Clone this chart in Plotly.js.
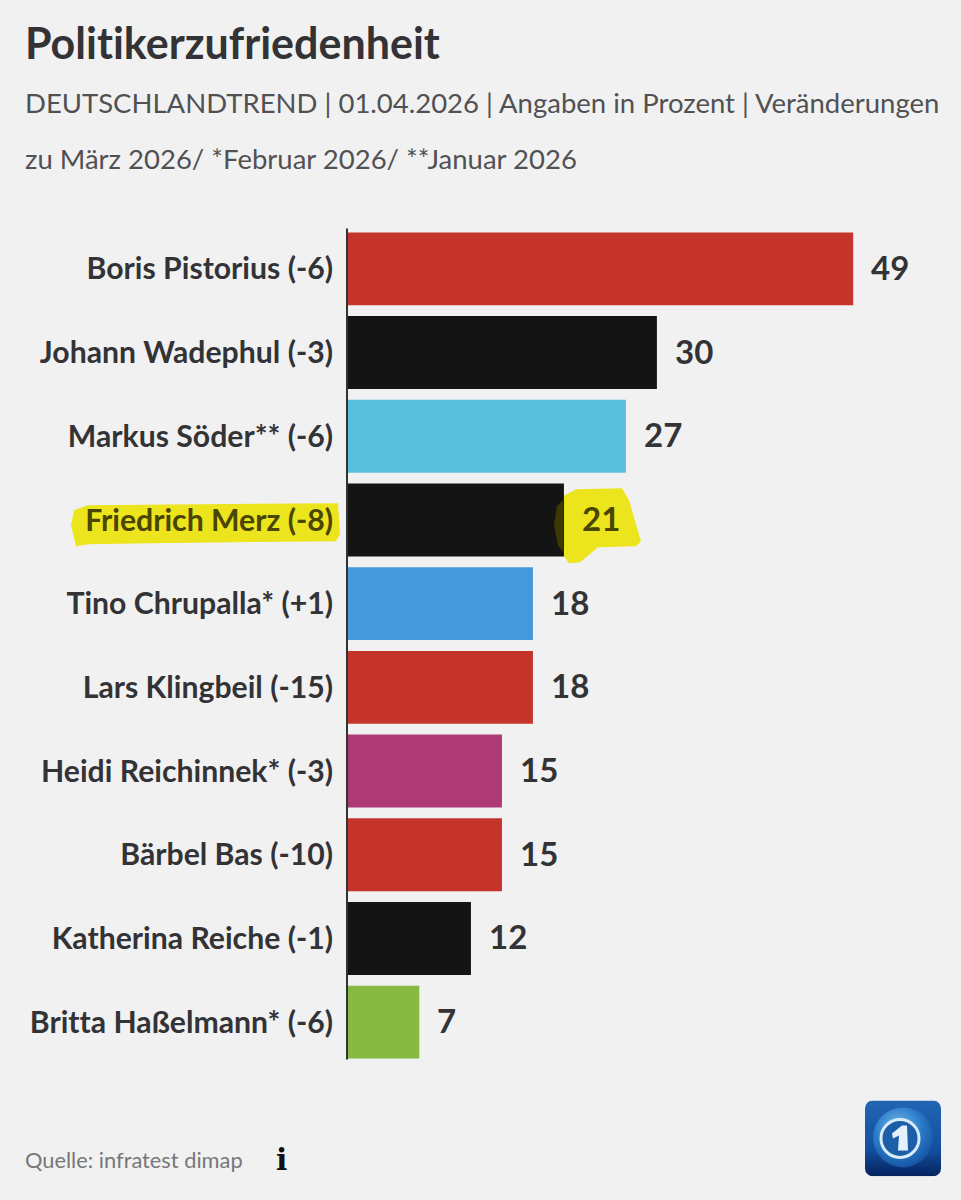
<!DOCTYPE html>
<html><head><meta charset="utf-8">
<script src="https://cdn.plot.ly/plotly-3.0.1.min.js"></script>
<style>html,body{margin:0;padding:0;background:#f1f1f2} text,tspan{font-variant-ligatures:none !important;font-feature-settings:"liga" 0,"clig" 0,"dlig" 0 !important;text-rendering:optimizeSpeed}</style></head>
<body><div id="chart" style="width:961px;height:1200px"></div>
<script>
const names = ["Boris Pistorius (-6)","Johann Wadephul (-3)","Markus Söder** (-6)","Friedrich Merz (-8)","Tino Chrupalla* (+1)","Lars Klingbeil (-15)","Heidi Reichinnek* (-3)","Bärbel Bas (-10)","Katherina Reiche (-1)","Britta Haßelmann* (-6)"];
const values = [49,30,27,21,18,18,15,15,12,7];
const colors = ["#c4342a","#141414","#58c0dc","#141414","#4599db","#c4342a","#ae3a75","#c4342a","#141414","#86ba40"];
const highlighted = "Friedrich Merz (-8)";
const titleText = "Politikerzufriedenheit";
const subtitle1 = "DEUTSCHLANDTREND | 01.04.2026 | Angaben in Prozent | Veränderungen";
const subtitle2 = "zu März 2026/ *Februar 2026/ **Januar 2026";
const sourceText = "Quelle: infratest dimap";

const F = "Lato, 'Noto Sans', sans-serif";
const W = 961, H = 1200, L = 347, T = 226.5, B = 135.5;
const px = x => (x - L) / (W - L);
const py = y => 1 - (y - T) / (H - T - B);
const path = pts => "M" + pts.map(p => px(p[0]).toFixed(4) + "," + py(p[1]).toFixed(4)).join("L") + "Z";
const DARK = "#333336", OLIVE = "#4a4500", YEL = "#ece41c";

const logo = `<svg xmlns="http://www.w3.org/2000/svg" width="76" height="76" viewBox="0 0 76 76">
<defs><linearGradient id="a" x1="0" y1="0" x2="0" y2="1"><stop offset="0" stop-color="#2265b5"/><stop offset=".65" stop-color="#134f9f"/><stop offset="1" stop-color="#04235f"/></linearGradient>
<radialGradient id="b" cx=".42" cy=".35" r=".7"><stop offset="0" stop-color="#7cc0ec"/><stop offset=".55" stop-color="#2a7cc9"/><stop offset="1" stop-color="#134f9f"/></radialGradient></defs>
<rect width="76" height="76" rx="8" fill="url(#a)"/><circle cx="38" cy="37" r="30" fill="url(#b)"/>
<circle cx="35" cy="38" r="19" fill="#1d5ea9" stroke="#d8ecf8" stroke-width="3"/>
<path d="M37 25L42 25L43 50L33 50L34 35L28 38L27 33Z" fill="#e4f1fa"/></svg>`;

const shapes = [
  {type:"path", xref:"paper", yref:"paper", layer:"below", line:{width:0}, fillcolor:YEL,
   path:path([[74,510],[88,505],[338,503],[340,534],[336,541],[150,543],[88,544],[76,546],[71,525]])},
  {type:"path", xref:"paper", yref:"paper", layer:"below", line:{width:0}, fillcolor:YEL,
   path:path([[563,496],[576,489],[622,488],[629,500],[641,541],[636,546],[598,547],[580,562],[569,563],[563,555]])},
  {type:"path", xref:"paper", yref:"paper", layer:"above", line:{width:0}, fillcolor:"#3b3800",
   path:path([[563,500],[557,506],[554,525],[558,545],[563,552]])},
  {type:"line", xref:"paper", yref:"paper", layer:"above", line:{color:DARK,width:2},
   x0:0, x1:0, y0:py(228), y1:py(1060)}
];

const labelsTick = names.map(n => n === highlighted ? `<span style="color:${OLIVE}">${n}</span>` : n);

const annotations = names.map((n,i) => ({
  x: values[i], y: n, xref:"x", yref:"y", text:String(values[i]), showarrow:false,
  xanchor:"left", yanchor:"middle", xshift:16, yshift:2,
  font:{family:F, size:33, weight:700, color: n === highlighted ? OLIVE : DARK}
}));
annotations.push(
  {xref:"paper",yref:"paper",x:px(23),y:py(102),xanchor:"left",yanchor:"middle",showarrow:false,text:subtitle1,font:{family:F,size:27.5,color:"#515154"}},
  {xref:"paper",yref:"paper",x:px(23),y:py(158),xanchor:"left",yanchor:"middle",showarrow:false,text:subtitle2,font:{family:F,size:27.5,color:"#515154"}},
  {xref:"paper",yref:"paper",x:px(23),y:py(1160),xanchor:"left",yanchor:"middle",showarrow:false,text:sourceText,font:{family:F,size:21.8,color:"#77777a"}},
  {xref:"paper",yref:"paper",x:px(281),y:py(1160),xanchor:"center",yanchor:"middle",showarrow:false,text:"i",font:{family:"'DejaVu Serif', serif",size:30,weight:700,color:"#111"}}
);

Plotly.newPlot("chart", [{
  type:"bar", orientation:"h", y:names, x:values, width:0.871,
  marker:{color:colors, line:{width:0}}, hoverinfo:"skip", showlegend:false
}], {
  width:W, height:H, margin:{l:L,r:0,t:T,b:B,pad:0},
  paper_bgcolor:"#f1f1f2", plot_bgcolor:"#f1f1f2",
  title:{text:titleText, x:25/W, xanchor:"left", y:1-44/H, yanchor:"middle", font:{family:F,size:43,weight:700,color:"#333336"}},
  xaxis:{range:[0,(W-L)/10.33], visible:false, fixedrange:true},
  yaxis:{type:"category", categoryorder:"array", categoryarray:names, tickmode:"array", tickvals:names, ticktext:labelsTick,
    range:[9.5,-0.5], showgrid:false, zeroline:false, showline:false, ticks:"", ticklabelstandoff:13,
    tickfont:{family:F,size:30.2,weight:700,color:DARK}, fixedrange:true},
  shapes, annotations,
  images:[{source:"data:image/svg+xml;base64,"+btoa(logo), xref:"paper", yref:"paper", x:px(865), y:py(1101), sizex:76/(W-L), sizey:76/(H-T-B), xanchor:"left", yanchor:"top", sizing:"stretch", layer:"above"}]
}, {displayModeBar:false, staticPlot:true});
</script></body></html>
